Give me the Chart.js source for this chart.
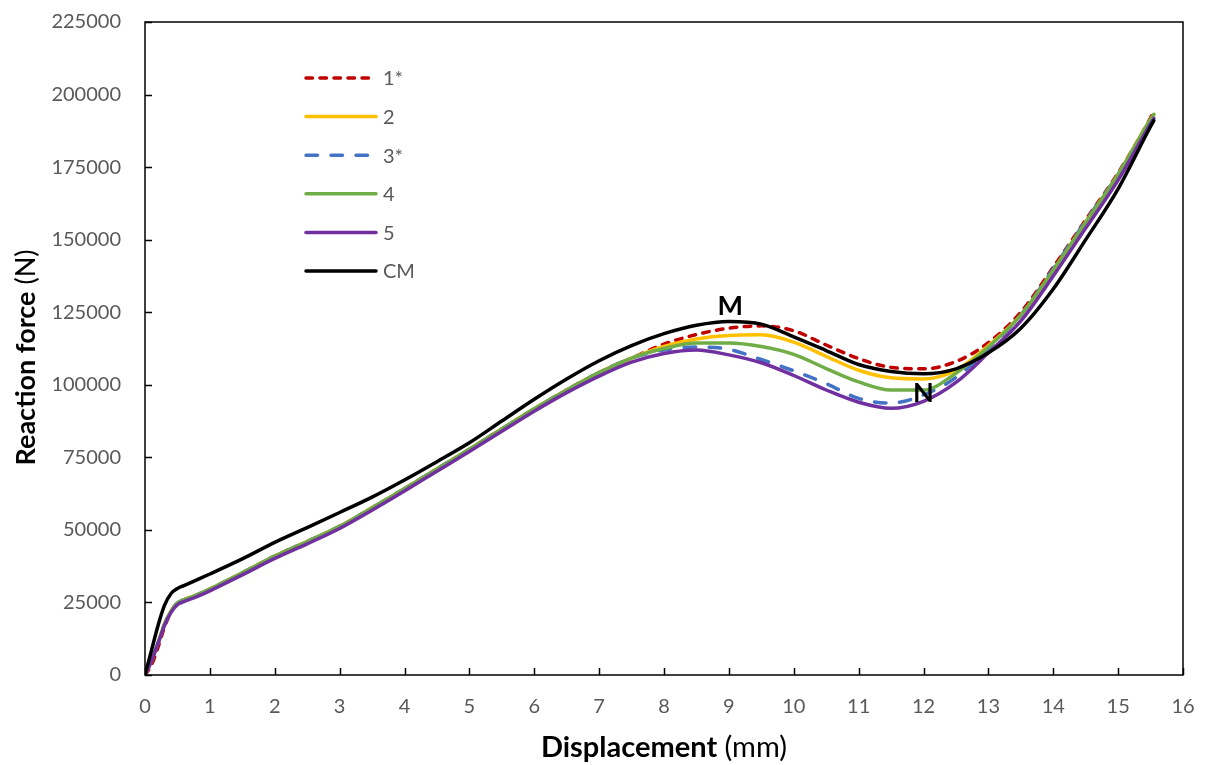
<!DOCTYPE html>
<html>
<head>
<meta charset="utf-8">
<script src="https://cdn.jsdelivr.net/npm/chart.js@4.4.1/dist/chart.umd.min.js"></script>
<style>
  html, body { margin: 0; padding: 0; background: #fff; }
  #wrap { width: 1205px; height: 765px; }
</style>
</head>
<body>
<div id="wrap"><canvas id="force" width="1205" height="765"></canvas></div>
<script>
// displacement (mm) shared by all curves
const DISP = [0, 0.1, 0.2, 0.3, 0.4, 0.5, 0.6, 0.8, 1, 1.5, 2, 2.5, 3, 3.5, 4, 4.5, 5, 5.5, 6, 6.5,
  7, 7.5, 8, 8.5, 9, 9.5, 10, 10.5, 11, 11.5, 12, 12.5, 13, 13.5, 14, 14.5, 15, 15.5, 15.55];

// reaction force (N)
const F1 = [0, 3500, 9500, 16500, 21800, 24800, 25900, 27600, 29600, 35200, 41000, 46000, 51200, 57600,
  64200, 71000, 77800, 84800, 91700, 98200, 104200, 109200, 114000, 117300, 119500, 120300, 118600,
  113700, 109000, 106000, 105500, 108000, 114500, 125000, 140500, 156800, 173000, 192000, 194300];
const F2 = [0, 5000, 11000, 17500, 22000, 24800, 25900, 27600, 29600, 35200, 41000, 46000, 51200, 57600,
  64200, 71000, 77800, 84800, 91700, 98200, 104200, 109200, 113200, 115800, 117000, 117200, 114700,
  109800, 105000, 102400, 102000, 105000, 113500, 124000, 139500, 156000, 172500, 191500, 193000];
const F3 = [0, 5000, 11000, 17500, 22000, 24800, 25900, 27600, 29600, 35200, 41000, 46000, 51200, 57600,
  64200, 71000, 77800, 84800, 91700, 98200, 104200, 109200, 112000, 113000, 112200, 108700, 104800,
  100400, 95300, 93700, 96500, 102500, 112500, 124000, 140000, 156500, 172500, 191000, 192600];
const F4 = [0, 5000, 11000, 17500, 22000, 24800, 25900, 27600, 29600, 35200, 41000, 46000, 51200, 57600,
  64200, 71000, 77800, 84800, 91700, 98200, 104200, 109200, 112500, 114400, 114400, 113200, 110500,
  105600, 101000, 98200, 98200, 104000, 113000, 124000, 139500, 156000, 172500, 191500, 193200];
const F5 = [0, 4800, 10800, 17000, 21500, 24200, 25300, 27000, 29000, 34500, 40200, 45200, 50500, 56800,
  63400, 70200, 77000, 84000, 90900, 97300, 103000, 107800, 110800, 112000, 110300, 107600, 103200,
  98200, 94000, 91900, 94300, 100800, 111000, 122000, 137500, 154000, 170500, 190000, 191800];
const FCM = [0, 8500, 17000, 24000, 28000, 29800, 30800, 32800, 34800, 40000, 45700, 50800, 56000, 61300,
  67200, 73500, 80000, 87500, 95000, 102000, 108300, 113500, 117600, 120500, 121800, 120900, 116500,
  111800, 107000, 104600, 103800, 105500, 111000, 119500, 133000, 150000, 167500, 189000, 191000];

const LABELS = ['1*', '2', '3*', '4', '5', 'CM'];
const VALUES = [F1, F2, F3, F4, F5, FCM];
const COLORS = ['#C00000', '#FFC000', '#4472C4', '#70AD47', '#7030A0', '#000000'];
const DASHES = [[6.5, 7.5], [], [11.5, 13.5], [], [], []];

// point annotations on the CM curve: [text, displacement, force at baseline]
const MARKS = [['M', 9.02, 124000], ['N', 12.0, 94100]];

const FONT = 'Lato, "Open Sans", sans-serif';
const GREY = '#595959';

const datasets = LABELS.map((lab, i) => ({
  label: lab,
  data: DISP.map((d, k) => ({ x: d, y: VALUES[i][k] })),
  borderColor: COLORS[i],
  borderWidth: 3.5,
  borderDash: DASHES[i],
  borderCapStyle: 'round',
  borderJoinStyle: 'round',
  pointRadius: 0,
  cubicInterpolationMode: 'monotone',
  fill: false,
  order: LABELS.length - i,
}));

// frame, inward ticks, legend, M/N tags and two-weight axis titles
const decor = {
  id: 'decor',
  afterDatasetsDraw(chart) {
    const { ctx, chartArea: a, scales: { x, y } } = chart;
    ctx.save();

    ctx.strokeStyle = '#000';
    ctx.lineWidth = 1.5;
    ctx.strokeRect(a.left, a.top, a.right - a.left, a.bottom - a.top);

    ctx.beginPath();
    y.ticks.forEach((t, i) => {
      const py = Math.round(y.getPixelForTick(i)) + 0.5;
      ctx.moveTo(a.left, py); ctx.lineTo(a.left + 7, py);
    });
    x.ticks.forEach((t, i) => {
      const px = Math.round(x.getPixelForTick(i)) + 0.5;
      ctx.moveTo(px, a.bottom); ctx.lineTo(px, a.bottom - 7);
    });
    ctx.stroke();

    // legend
    const lx = a.left + 161, ly = a.top + 56, step = 38.6;
    chart.data.datasets.forEach((ds, i) => {
      const cy = ly + i * step;
      ctx.beginPath();
      ctx.strokeStyle = ds.borderColor;
      ctx.lineWidth = ds.borderWidth;
      ctx.lineCap = 'round';
      ctx.setLineDash(ds.borderDash);
      ctx.moveTo(lx, cy); ctx.lineTo(lx + 70, cy);
      ctx.stroke();
      ctx.setLineDash([]);
      ctx.fillStyle = GREY;
      ctx.font = '20px ' + FONT;
      ctx.textAlign = 'left';
      ctx.textBaseline = 'middle';
      ctx.fillText(ds.label, lx + 77, cy + 1);
    });

    ctx.fillStyle = '#000';
    ctx.font = 'bold 27px ' + FONT;
    ctx.textAlign = 'center';
    ctx.textBaseline = 'alphabetic';
    MARKS.forEach(([t, d, f]) => ctx.fillText(t, x.getPixelForValue(d), y.getPixelForValue(f)));

    drawTitle(ctx, 'Displacement', ' (mm)', 29, (a.left + a.right) / 2, 757, 0);
    drawTitle(ctx, 'Reaction force', ' (N)', 27, 35, (a.top + a.bottom) / 2 + 9, -Math.PI / 2);
    ctx.restore();
  },
};

function drawTitle(ctx, bold, normal, size, cx, cy, rot) {
  ctx.save();
  ctx.translate(cx, cy);
  ctx.rotate(rot);
  ctx.fillStyle = '#000';
  ctx.textBaseline = 'alphabetic';
  ctx.textAlign = 'left';
  ctx.font = `bold ${size}px ${FONT}`;
  const wb = ctx.measureText(bold).width;
  ctx.font = `${size}px ${FONT}`;
  const wn = ctx.measureText(normal).width;
  const x0 = -(wb + wn) / 2;
  ctx.font = `bold ${size}px ${FONT}`;
  ctx.fillText(bold, x0, 0);
  ctx.font = `${size}px ${FONT}`;
  ctx.fillText(normal, x0 + wb, 0);
  ctx.restore();
}

new Chart(document.getElementById('force'), {
  type: 'line',
  data: { datasets },
  options: {
    responsive: false,
    animation: false,
    devicePixelRatio: 1,
    layout: { padding: { top: 22, right: 22, left: 0, bottom: 0 } },
    plugins: { legend: { display: false }, tooltip: { enabled: false } },
    scales: {
      x: {
        type: 'linear', min: 0, max: 16,
        grid: { display: false, drawTicks: false },
        border: { display: false },
        ticks: { stepSize: 1, padding: 20, color: GREY, font: { family: FONT, size: 20 }, maxRotation: 0 },
        afterFit: s => { s.height = 90; s.paddingLeft = 0; s.paddingRight = 0; },
      },
      y: {
        type: 'linear', min: 0, max: 225000,
        grid: { display: false, drawTicks: false },
        border: { display: false },
        ticks: { stepSize: 25000, padding: 24, color: GREY, font: { family: FONT, size: 20 },
          callback: v => String(v) },
        afterFit: s => { s.width = 145; s.paddingTop = 0; s.paddingBottom = 0; },
      },
    },
  },
  plugins: [decor],
});
</script>
</body>
</html>
